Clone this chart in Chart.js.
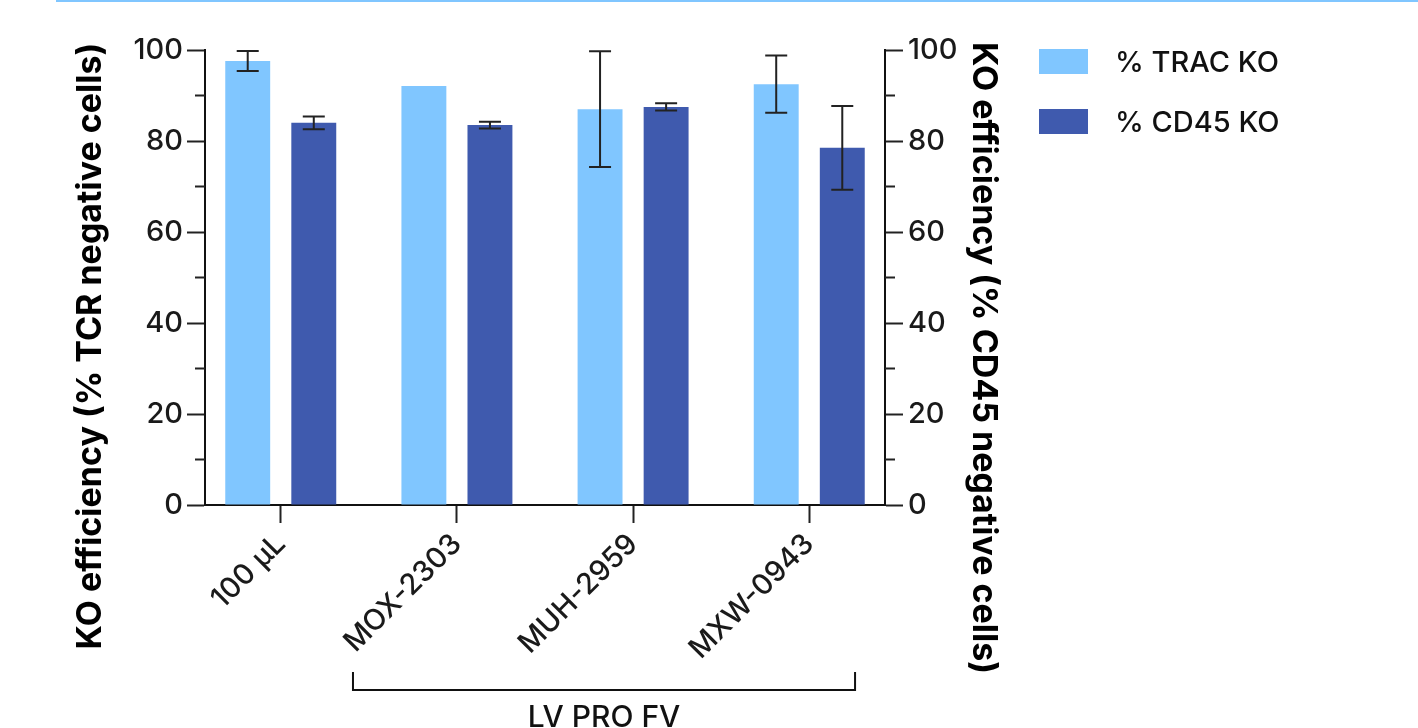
<!DOCTYPE html>
<html>
<head>
<meta charset="utf-8">
<script src="https://cdn.jsdelivr.net/npm/chart.js@4.4.1/dist/chart.umd.min.js"></script>
<style>
  body { margin: 0; background: #fff; font-family: Inter, sans-serif; }
  #wrap { position: relative; width: 1418px; height: 728px; overflow: hidden; }
  #topline { position: absolute; left: 56px; right: 0; top: 0; height: 2px; background: #80C6FF; }
  #legend { position: absolute; left: 1039px; top: 49px; }
  .item { display: flex; align-items: center; height: 25px; margin-bottom: 35px; font-size: 29px; font-weight: 500; color: #111; }
  .swatch { width: 49px; height: 25px; margin-right: 27px; }
</style>
</head>
<body>
<div id="wrap">
  <canvas id="ko-chart"></canvas>
  <div id="topline"></div>
  <div id="legend"></div>
</div>
<script>
// Values
const categories = ["100 µL", "MOX-2303", "MUH-2959", "MXW-0943"];
const tracKO = [97.6, 92.1, 87.0, 92.5];
const tracErr = [2.2, null, 12.7, 6.3];
const cd45KO = [84.0, 83.5, 87.5, 78.5];
const cd45Err = [1.4, 0.75, 0.8, 9.2];
const yTicks = [0, 20, 40, 60, 80, 100];
const yMinorTicks = [10, 30, 50, 70, 90];
const seriesNames = ["% TRAC KO", "% CD45 KO"];
const seriesColors = ["#80C6FF", "#3F5AAE"];
const leftTitle = "KO efficiency (% TCR negative cells)";
const rightTitle = "KO efficiency (% CD45 negative cells)";
const groupLabel = "LV PRO FV";
const groupFrom = 0.41;  // bracket span, in x-axis units
const groupTo = 3.26;

const FONT = "Inter";
const tickFont = { family: FONT, size: 29, weight: 500 };

// Error bars on top of the bars
const errorBars = {
    id: 'errorBars',
    afterDatasetsDraw(chart) {
        const ctx = chart.ctx;
        ctx.save();
        ctx.strokeStyle = '#222';
        ctx.lineWidth = 2;
        [[tracKO, tracErr], [cd45KO, cd45Err]].forEach(([vals, errs], d) => {
            const meta = chart.getDatasetMeta(d);
            const yScale = chart.scales[meta.yAxisID];
            meta.data.forEach((bar, i) => {
                if (!errs[i]) return;
                const top = yScale.getPixelForValue(vals[i] + errs[i]);
                const bot = yScale.getPixelForValue(vals[i] - errs[i]);
                ctx.beginPath();
                ctx.moveTo(bar.x, top); ctx.lineTo(bar.x, bot);
                ctx.moveTo(bar.x - 11, top); ctx.lineTo(bar.x + 11, top);
                ctx.moveTo(bar.x - 11, bot); ctx.lineTo(bar.x + 11, bot);
                ctx.stroke();
            });
        });
        ctx.restore();
    }
};

// Minor ticks, axis titles and the group bracket
const extras = {
    id: 'extras',
    afterDraw(chart) {
        const ctx = chart.ctx;
        const { y, y2, x } = chart.scales;
        ctx.save();
        ctx.strokeStyle = '#222';
        ctx.lineWidth = 2;
        ctx.beginPath();
        yMinorTicks.forEach(v => {
            const py = y.getPixelForValue(v);
            ctx.moveTo(y.right, py); ctx.lineTo(y.right - 10, py);
            const py2 = y2.getPixelForValue(v);
            ctx.moveTo(y2.left, py2); ctx.lineTo(y2.left + 10, py2);
        });
        ctx.stroke();

        // axis titles
        ctx.fillStyle = '#000';
        ctx.font = `bold 34px ${FONT}`;
        ctx.textAlign = 'center';
        ctx.textBaseline = 'alphabetic';
        ctx.save();
        ctx.translate(101, 346);
        ctx.rotate(-Math.PI / 2);
        ctx.fillText(leftTitle, 0, 0);
        ctx.restore();
        ctx.save();
        ctx.translate(973, 358);
        ctx.rotate(Math.PI / 2);
        ctx.fillText(rightTitle, 0, 0);
        ctx.restore();

        // bracket under the LV PRO FV groups
        const x0 = x.getPixelForValue(groupFrom);
        const x1 = x.getPixelForValue(groupTo);
        ctx.strokeStyle = '#111';
        ctx.beginPath();
        ctx.moveTo(x0, 672); ctx.lineTo(x0, 690); ctx.lineTo(x1, 690); ctx.lineTo(x1, 672);
        ctx.stroke();
        ctx.font = `500 30px ${FONT}`;
        ctx.fillStyle = '#111';
        ctx.fillText(groupLabel, (x0 + x1) / 2, 727);
        ctx.restore();
    }
};

function axisGrid() {
    return { display: true, offset: false, drawOnChartArea: false, drawTicks: true,
             tickLength: 18, tickColor: '#222', tickWidth: 2 };
}

function buildLegend() {
    const legend = document.getElementById('legend');
    seriesNames.forEach((name, i) => {
        const item = document.createElement('div');
        item.className = 'item';
        item.innerHTML = `<span class="swatch" style="background:${seriesColors[i]}"></span><span>${name}</span>`;
        legend.appendChild(item);
    });
}

function displayChart() {
    const ctx = document.getElementById('ko-chart').getContext('2d');
    new Chart(ctx, {
        type: 'bar',
        data: {
            datasets: [{
                label: seriesNames[0],
                data: categories.map((c, i) => ({ x: i, y: tracKO[i] })),
                backgroundColor: seriesColors[0],
                yAxisID: 'y',
            }, {
                label: seriesNames[1],
                data: categories.map((c, i) => ({ x: i, y: cd45KO[i] })),
                backgroundColor: seriesColors[1],
                yAxisID: 'y2',
            }]
        },
        options: {
            responsive: true,
            maintainAspectRatio: false,
            animation: false,
            categoryPercentage: 0.75,
            barPercentage: 0.68,
            borderWidth: 0,
            layout: { padding: { top: 50, right: 413, bottom: 0, left: 0 } },
            plugins: { legend: { display: false }, tooltip: { enabled: false } },
            scales: {
                x: {
                    type: 'linear',
                    min: -0.43,
                    max: 3.43,
                    offset: false,
                    afterBuildTicks: s => { s.ticks = categories.map((c, i) => ({ value: i })); },
                    afterFit: s => { s.height = 223; },
                    grid: axisGrid(),
                    border: { display: true, color: '#111', width: 2 },
                    ticks: {
                        callback: v => categories[v],
                        minRotation: 45, maxRotation: 45, autoSkip: false,
                        font: tickFont, color: '#1a1a1a', padding: 4
                    }
                },
                y: {
                    position: 'left',
                    min: 0, max: 100,
                    afterBuildTicks: s => { s.ticks = yTicks.map(v => ({ value: v })); },
                    afterFit: s => { s.width = 205; },
                    grid: axisGrid(),
                    border: { display: true, color: '#111', width: 2 },
                    ticks: { font: tickFont, color: '#1a1a1a', padding: 4 }
                },
                y2: {
                    position: 'right',
                    min: 0, max: 100,
                    afterBuildTicks: s => { s.ticks = yTicks.map(v => ({ value: v })); },
                    afterFit: s => { s.width = 120; },
                    grid: axisGrid(),
                    border: { display: true, color: '#111', width: 2 },
                    ticks: { font: tickFont, color: '#1a1a1a', padding: 5 }
                }
            }
        },
        plugins: [errorBars, extras]
    });
}

window.addEventListener('load', () => {
    buildLegend();
    displayChart();
});
</script>
</body>
</html>
